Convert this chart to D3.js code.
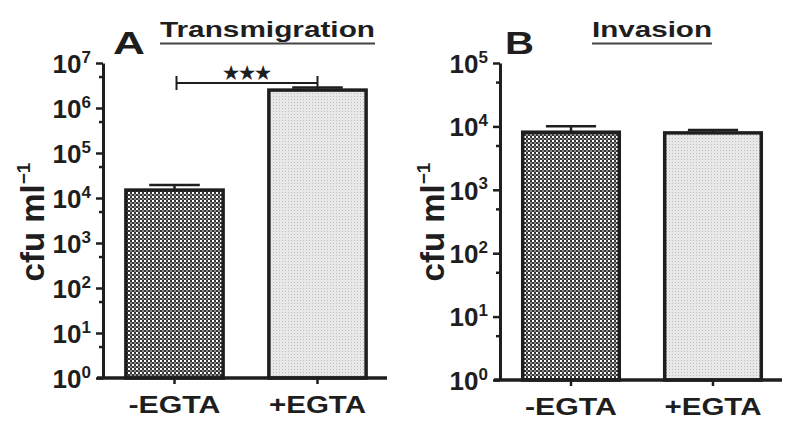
<!DOCTYPE html>
<html>
<head>
<meta charset="utf-8">
<script src="https://cdn.jsdelivr.net/npm/d3@7"></script>
<style>
  body { margin: 0; background: #fff; }
  svg { display: block; }
  text { font-family: "Liberation Sans", Arial, sans-serif; font-weight: bold; fill: #1e1e1e; }
</style>
</head>
<body>
<svg id="chart" width="800" height="435"></svg>
<script>
// data
var groups = ["-EGTA", "+EGTA"];
var transMean = [1.5e4, 2.5e6];
var transUpper = [1.95e4, 2.85e6];
var invMean = [8.1e3, 7.9e3];
var invUpper = [1.01e4, 8.8e3];
var transTicks = [1e0, 1e1, 1e2, 1e3, 1e4, 1e5, 1e6, 1e7];
var transMinor = [5, 50, 500, 5e3, 5e4, 5e5, 5e6];
var invTicks = [1e0, 1e1, 1e2, 1e3, 1e4, 1e5];
var invMinor = [5, 50, 500, 5e3, 5e4];
var sigLevel = 3.6e6;
var sigLabel = "★★★";

var ink = "#1e1e1e";
var svg = d3.select("#chart");

// fill patterns
var defs = svg.append("defs");
var dark = defs.append("pattern").attr("id", "darkDots")
  .attr("patternUnits", "userSpaceOnUse").attr("width", 4).attr("height", 4);
dark.append("rect").attr("width", 4).attr("height", 4).attr("fill", "#333");
dark.append("rect").attr("width", 2).attr("height", 2).attr("fill", "#fff");
dark.append("rect").attr("x", 2).attr("y", 2).attr("width", 2).attr("height", 2).attr("fill", "#8a8a8a");

var light = defs.append("pattern").attr("id", "lightDots")
  .attr("patternUnits", "userSpaceOnUse").attr("width", 3).attr("height", 3);
light.append("rect").attr("width", 3).attr("height", 3).attr("fill", "#e8e8e8");
light.append("rect").attr("width", 1).attr("height", 1).attr("fill", "#bcbcbc");

var fills = ["url(#darkDots)", "url(#lightDots)"];

function drawPanel(cfg) {
  var g = svg.append("g");

  var x = d3.scaleBand()
    .domain(groups)
    .range([cfg.left, cfg.right])
    .paddingInner(0.32)
    .paddingOuter(0.16);

  var y = d3.scaleLog()
    .domain([cfg.ticks[0], cfg.ticks[cfg.ticks.length - 1]])
    .range([cfg.bottom, cfg.top]);

  // minor ticks
  g.append("g")
    .attr("transform", "translate(" + cfg.left + ",0)")
    .call(d3.axisLeft(y).tickValues(cfg.minor).tickSize(4).tickSizeOuter(0).tickFormat(""))
    .call(a => a.select(".domain").remove())
    .call(a => a.selectAll("line").attr("stroke", ink).attr("stroke-width", 2.5));

  // major y axis
  var yAxis = g.append("g")
    .attr("transform", "translate(" + cfg.left + ",0)")
    .call(d3.axisLeft(y).tickValues(cfg.ticks).tickSize(7).tickSizeOuter(0).tickPadding(5).tickFormat(""));
  yAxis.select(".domain").attr("stroke", ink).attr("stroke-width", 3);
  yAxis.selectAll("line").attr("stroke", ink).attr("stroke-width", 2.5);
  yAxis.selectAll(".tick text")
    .attr("font-size", 26)
    .attr("dy", "0.36em")
    .each(function (d) {
      var t = d3.select(this);
      t.text("10");
      t.append("tspan").attr("font-size", 17).attr("dy", "-0.6em").text(Math.round(Math.log10(d)));
    });

  // error bars
  var capW = x.bandwidth() * 0.52;
  groups.forEach(function (k, i) {
    var cx = x(k) + x.bandwidth() / 2;
    g.append("line")
      .attr("x1", cx).attr("x2", cx)
      .attr("y1", y(cfg.mean[i])).attr("y2", y(cfg.upper[i]))
      .attr("stroke", ink).attr("stroke-width", 2.5);
    g.append("line")
      .attr("x1", cx - capW / 2).attr("x2", cx + capW / 2)
      .attr("y1", y(cfg.upper[i])).attr("y2", y(cfg.upper[i]))
      .attr("stroke", ink).attr("stroke-width", 2.5);
  });

  // bars
  g.selectAll("rect.bar")
    .data(cfg.mean)
    .enter()
    .append("rect")
    .attr("class", "bar")
    .attr("x", (d, i) => x(groups[i]))
    .attr("y", d => y(d))
    .attr("width", x.bandwidth())
    .attr("height", d => cfg.bottom - y(d))
    .attr("fill", (d, i) => fills[i])
    .attr("stroke", ink)
    .attr("stroke-width", 3.5);

  // x axis
  var xAxis = g.append("g")
    .attr("transform", "translate(0," + cfg.bottom + ")")
    .call(d3.axisBottom(x).tickSize(6).tickSizeOuter(0).tickPadding(10));
  xAxis.select(".domain").attr("stroke", ink).attr("stroke-width", 3.5)
    .attr("d", "M" + (cfg.left - 6) + ",0H" + (cfg.right - 2));
  xAxis.selectAll("line").attr("stroke", ink).attr("stroke-width", 2.5);
  xAxis.selectAll(".tick text")
    .attr("font-size", 24)
    .attr("fill", ink)
    .attr("dy", "0.78em")
    .attr("textLength", (d, i) => cfg.labelW[i])
    .attr("lengthAdjust", "spacingAndGlyphs");

  // y label
  var yl = g.append("text")
    .attr("transform", "translate(" + cfg.ylabX + ",222) rotate(-90)")
    .attr("text-anchor", "middle")
    .attr("font-size", 33);
  yl.append("tspan").text("cfu ml");
  yl.append("tspan").attr("font-size", 19).attr("dy", "-0.75em").text("\u22121");

  // panel letter and title
  g.append("text")
    .attr("x", cfg.letterX).attr("y", 54)
    .attr("font-size", 32)
    .attr("textLength", cfg.letterW).attr("lengthAdjust", "spacingAndGlyphs")
    .text(cfg.letter);
  g.append("text")
    .attr("x", cfg.titleX).attr("y", 37)
    .attr("font-size", 22)
    .attr("textLength", cfg.titleW).attr("lengthAdjust", "spacingAndGlyphs")
    .text(cfg.title);
  g.append("line")
    .attr("x1", cfg.titleX).attr("x2", cfg.titleX + cfg.titleW)
    .attr("y1", 43.5).attr("y2", 43.5)
    .attr("stroke", "#444").attr("stroke-width", 1.8);

  return { x: x, y: y, g: g };
}

var pA = drawPanel({
  left: 103, right: 389, top: 63, bottom: 378,
  ticks: transTicks, minor: transMinor,
  mean: transMean, upper: transUpper,
  labelW: [92, 97], ylabX: 44,
  letter: "A", letterX: 113, letterW: 32,
  title: "Transmigration", titleX: 160, titleW: 215
});

drawPanel({
  left: 500, right: 784, top: 63, bottom: 380,
  ticks: invTicks, minor: invMinor,
  mean: invMean, upper: invUpper,
  labelW: [92, 97], ylabX: 444,
  letter: "B", letterX: 505, letterW: 29,
  title: "Invasion", titleX: 592, titleW: 120
});

// significance bracket on panel A
var x1 = pA.x(groups[0]) + pA.x.bandwidth() / 2 + 2;
var x2 = pA.x(groups[1]) + pA.x.bandwidth() / 2;
var sy = pA.y(sigLevel);
pA.g.append("path")
  .attr("d", "M" + x1 + "," + (sy - 7) + "V" + (sy + 7) + "M" + x1 + "," + sy + "H" + x2 + "M" + x2 + "," + (sy - 7) + "V" + (sy + 5))
  .attr("fill", "none").attr("stroke", ink).attr("stroke-width", 2);
pA.g.append("text")
  .attr("x", (x1 + x2) / 2).attr("y", sy - 4)
  .attr("text-anchor", "middle")
  .attr("font-family", "DejaVu Sans")
  .attr("font-size", 18)
  .text(sigLabel);
</script>
</body>
</html>
